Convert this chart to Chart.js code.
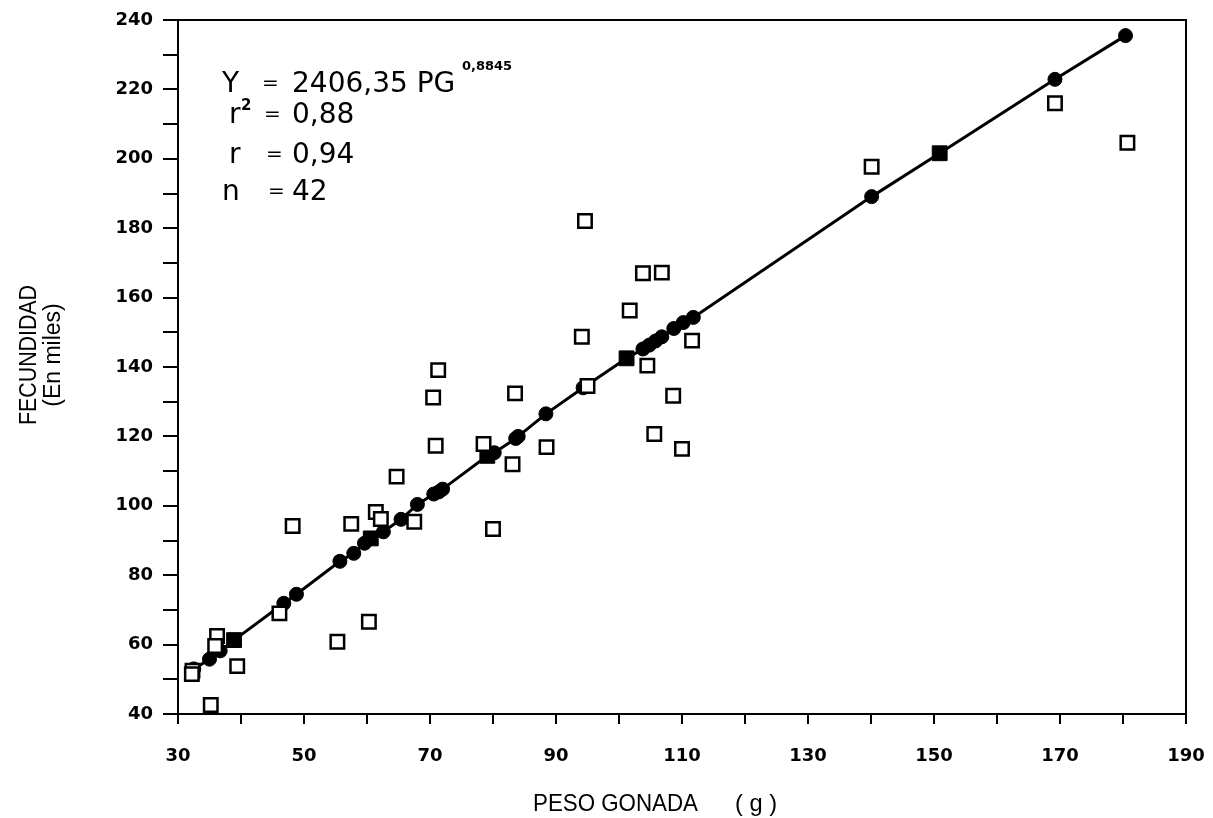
<!DOCTYPE html>
<html>
<head>
<meta charset="utf-8">
<script src="https://cdn.jsdelivr.net/npm/chart.js@4.4.1/dist/chart.umd.min.js"></script>
<style>
  html, body { margin: 0; padding: 0; background: #fff; }
  #c { display: block; }
</style>
</head>
<body>
<canvas id="c" width="1213" height="818"></canvas>
<script>
// ---- Data ----
// Observed values (open squares): gonad weight (g) and fecundity (thousands)
const obsX = [32.3, 32.2, 35.2, 36.2, 35.9, 39.4, 46.1, 48.2, 55.3, 57.5, 60.3, 61.4, 62.2, 64.7, 67.5,
              70.5, 70.9, 71.3, 78.5, 80.0, 83.1, 83.5, 88.5, 94.1, 94.6, 95.0, 101.7, 103.8, 104.5,
              105.6, 106.8, 108.6, 110.0, 111.6, 140.1, 169.2, 180.7];
const obsY = [52.5, 51.5, 42.6, 62.5, 59.6, 53.8, 69.0, 94.2, 60.8, 94.8, 66.6, 98.2, 96.2, 108.4, 95.4,
              131.2, 117.3, 139.1, 117.8, 93.3, 112.0, 132.4, 116.9, 148.7, 182.1, 134.5, 156.3, 167.0, 140.4,
              120.7, 167.2, 131.7, 116.4, 147.6, 197.7, 216.0, 204.6];

// Estimated values on the fitted curve (filled circles)
const fitCircleX = [32.5, 35.0, 36.7, 46.8, 48.8, 55.7, 57.9, 59.6, 62.6, 65.4, 68.0, 70.6, 71.4, 72.0,
                    80.2, 83.6, 84.0, 88.4, 94.3, 103.8, 104.8, 105.8, 106.8, 108.7, 110.2, 111.8,
                    140.1, 169.2, 180.4];
const fitCircleY = [53.0, 55.8, 58.2, 71.9, 74.5, 84.0, 86.3, 89.2, 92.5, 96.1, 100.4, 103.4, 104.0, 104.8,
                    115.3, 119.4, 120.0, 126.5, 134.0, 145.2, 146.3, 147.5, 148.7, 151.1, 152.8, 154.3,
                    189.1, 222.9, 235.5];

// Estimated values on the fitted curve (filled squares)
const fitSquareX = [38.9, 60.6, 79.1, 101.2, 150.9];
const fitSquareY = [61.3, 90.6, 114.4, 142.5, 201.6];

// Axis tick labels
const xTickLabels = [30, 50, 70, 90, 110, 130, 150, 170, 190];
const yTickLabels = [40, 60, 80, 100, 120, 140, 160, 180, 200, 220, 240];

// Texts
const xTitle = ['PESO GONADA', '( g )'];
const yTitle = ['FECUNDIDAD', '(En miles)'];

// ---- Build datasets ----
const toPts = (xs, ys) => xs.map((x, i) => ({ x: x, y: ys[i] }));
const obsPts = toPts(obsX, obsY);
const circPts = toPts(fitCircleX, fitCircleY);
const sqPts = toPts(fitSquareX, fitSquareY);
const linePts = circPts.concat(sqPts).sort((a, b) => a.x - b.x);

const framePlugin = {
  id: 'frame',
  afterDatasetsDraw(chart) {
    const { ctx, chartArea: a } = chart;
    ctx.save();
    ctx.strokeStyle = '#000';
    ctx.lineWidth = 2;
    ctx.beginPath();
    ctx.moveTo(a.left, a.top);
    ctx.lineTo(a.right, a.top);
    ctx.lineTo(a.right, a.bottom);
    ctx.stroke();
    ctx.restore();
  },
  afterDraw(chart) {
    const ctx = chart.ctx;
    ctx.save();
    ctx.fillStyle = '#000';
    ctx.textBaseline = 'alphabetic';
    ctx.textAlign = 'left';
    const big = '28px "DejaVu Sans"';
    const eq = '20px "DejaVu Sans"';
    // Equation block
    ctx.font = big;
    ctx.fillText('Y', 222, 92);
    ctx.font = eq;
    ctx.fillText('=', 262, 89);
    ctx.font = big;
    ctx.fillText('2406,35 PG', 292, 92);
    ctx.font = 'bold 13px "DejaVu Sans"';
    ctx.fillText('0,8845', 462, 70);

    ctx.font = big;
    ctx.fillText('r', 229, 123);
    ctx.font = 'bold 15px "DejaVu Sans"';
    ctx.fillText('2', 241, 110);
    ctx.font = eq;
    ctx.fillText('=', 264, 120);
    ctx.font = big;
    ctx.fillText('0,88', 292, 123);

    ctx.fillText('r', 229, 163);
    ctx.font = eq;
    ctx.fillText('=', 266, 160);
    ctx.font = big;
    ctx.fillText('0,94', 292, 163);

    ctx.fillText('n', 222, 200);
    ctx.font = eq;
    ctx.fillText('=', 268, 197);
    ctx.font = big;
    ctx.fillText('42', 292, 200);

    // X axis title
    ctx.font = '24px "Liberation Sans"';
    ctx.fillText(xTitle[0], 533, 811, 165);
    ctx.fillText(xTitle[1], 735, 811, 42);

    // Y axis title (rotated)
    ctx.textAlign = 'center';
    ctx.font = '23px "Liberation Sans"';
    ctx.save();
    ctx.translate(36, 355);
    ctx.rotate(-Math.PI / 2);
    ctx.fillText(yTitle[0], 0, 0, 140);
    ctx.restore();
    ctx.save();
    ctx.translate(60, 355);
    ctx.rotate(-Math.PI / 2);
    ctx.fillText(yTitle[1], 0, 0, 110);
    ctx.restore();
    ctx.restore();
  }
};

const tickFont = { family: '"DejaVu Sans"', size: 18, weight: 'bold' };

new Chart(document.getElementById('c'), {
  type: 'scatter',
  data: {
    datasets: [
      {
        label: 'Observado',
        data: obsPts,
        pointStyle: 'rect',
        pointRadius: 9.5,
        pointBorderWidth: 2.5,
        borderColor: '#000',
        backgroundColor: '#fff',
        showLine: false
      },
      {
        label: 'Estimado (cuadros)',
        data: sqPts,
        pointStyle: 'rect',
        pointRadius: 10.5,
        borderColor: '#000',
        backgroundColor: '#000',
        pointBorderWidth: 1,
        showLine: false
      },
      {
        label: 'Estimado',
        data: circPts,
        pointStyle: 'circle',
        pointRadius: 7,
        borderColor: '#000',
        backgroundColor: '#000',
        pointBorderWidth: 1,
        showLine: false
      },
      {
        label: 'Curva',
        data: linePts,
        showLine: true,
        pointRadius: 0,
        borderColor: '#000',
        borderWidth: 3,
        fill: false,
        tension: 0
      }
    ]
  },
  options: {
    responsive: false,
    animation: false,
    events: [],
    layout: { padding: { left: 0, top: 20, right: 27, bottom: 0 } },
    plugins: { legend: { display: false }, tooltip: { enabled: false } },
    scales: {
      x: {
        type: 'linear',
        min: 30,
        max: 190,
        afterFit: (s) => { s.height = 104; s.paddingLeft = 0; s.paddingRight = 0; },
        ticks: {
          stepSize: 10,
          autoSkip: false,
          maxRotation: 0,
          padding: 22,
          color: '#000',
          font: tickFont,
          callback: (v) => (xTickLabels.includes(v) ? String(v) : '')
        },
        grid: { drawOnChartArea: false, drawTicks: true, tickLength: 10, color: '#000', lineWidth: 2 },
        border: { display: true, color: '#000', width: 2 }
      },
      y: {
        type: 'linear',
        min: 40,
        max: 240,
        afterFit: (s) => { s.width = 178; s.paddingTop = 0; s.paddingBottom = 0; },
        ticks: {
          stepSize: 10,
          autoSkip: false,
          padding: 10,
          color: '#000',
          font: tickFont,
          callback: (v) => (yTickLabels.includes(v) ? String(v) : '')
        },
        grid: { drawOnChartArea: false, drawTicks: true, tickLength: 15, color: '#000', lineWidth: 2 },
        border: { display: true, color: '#000', width: 2 }
      }
    }
  },
  plugins: [framePlugin]
});
</script>
</body>
</html>
